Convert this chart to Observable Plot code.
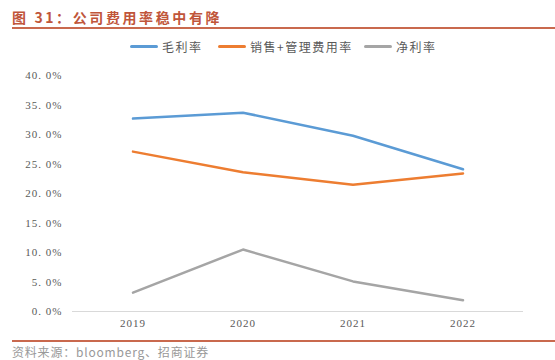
<!DOCTYPE html>
<html><head><meta charset="utf-8">
<script src="https://cdn.jsdelivr.net/npm/d3@7"></script>
<script src="https://cdn.jsdelivr.net/npm/@observablehq/plot@0.6"></script>
<style>
body{margin:0;width:555px;height:360px;position:relative;background:#fff;overflow:hidden;font-family:"Noto Sans CJK SC",sans-serif;}
#title{position:absolute;left:12px;top:7px;font-size:14px;font-weight:bold;color:#c0553a;letter-spacing:2.6px;}
#tline{position:absolute;left:12px;right:0;top:27px;height:2px;background:#c9694e;}
#legend{position:absolute;top:38px;left:0;width:555px;height:18px;font-size:12px;color:#595959;}
.li{position:absolute;top:0;display:flex;align-items:center;letter-spacing:1.5px;}
.sw{width:28px;height:3px;border-radius:2px;margin-right:4px;}
#chart{position:absolute;left:0;top:60px;}
#chart svg text{font-family:"Liberation Serif",serif !important;letter-spacing:1px;}
#bline{position:absolute;left:12px;right:0;top:340px;height:2px;background:#c9694e;}
#src{position:absolute;left:12px;top:343px;font-size:12px;color:#999;letter-spacing:0.8px;}
</style></head>
<body>
<div id="title">图 31：公司费用率稳中有降</div>
<div id="tline"></div>
<div id="legend"></div>
<div id="chart"></div>
<div id="bline"></div>
<div id="src">资料来源：bloomberg、招商证券</div>
<script>
const years = ["2019","2020","2021","2022"];
const seriesNames = ["毛利率","销售+管理费用率","净利率"];
const grossMargin = [32.7, 33.7, 29.8, 24.1];
const expenseRatio = [27.1, 23.6, 21.5, 23.4];
const netMargin = [3.2, 10.5, 5.1, 1.9];
const yTicks = [0,5,10,15,20,25,30,35,40];
const colors = ["#5b9bd5","#ed7d31","#a5a5a5"];

const allSeries = [grossMargin, expenseRatio, netMargin];
const data = [];
allSeries.forEach((vals, si) => vals.forEach((v, i) => data.push({year: years[i], value: v, series: seriesNames[si]})));

const legendX = [130, 218, 364];
const leg = document.getElementById("legend");
seriesNames.forEach((n, i) => {
  const d = document.createElement("div");
  d.className = "li";
  d.style.left = legendX[i] + "px";
  d.innerHTML = `<div class="sw" style="background:${colors[i]}"></div><span>${n}</span>`;
  leg.appendChild(d);
});

const fmt = d => d.toFixed(1).replace(".", ". ") + "%";

const plot = Plot.plot({
  width: 555,
  height: 275,
  marginTop: 15,
  marginBottom: 24,
  marginLeft: 72,
  marginRight: 32,
  style: {fontFamily: "Liberation Serif, serif", fontSize: "11px", color: "#595959", background: "transparent"},
  x: {type: "band", domain: years, label: null, tickSize: 0, tickPadding: 8},
  y: {domain: [0, 40], ticks: yTicks, tickFormat: fmt, label: null, tickSize: 0, tickPadding: 10},
  color: {domain: seriesNames, range: colors},
  marks: [
    Plot.ruleY([0], {stroke: "#d9d9d9", strokeWidth: 1}),
    Plot.line(data, {x: "year", y: "value", z: "series", stroke: "series", strokeWidth: 2.5})
  ]
});
document.getElementById("chart").appendChild(plot);
</script>
</body></html>
